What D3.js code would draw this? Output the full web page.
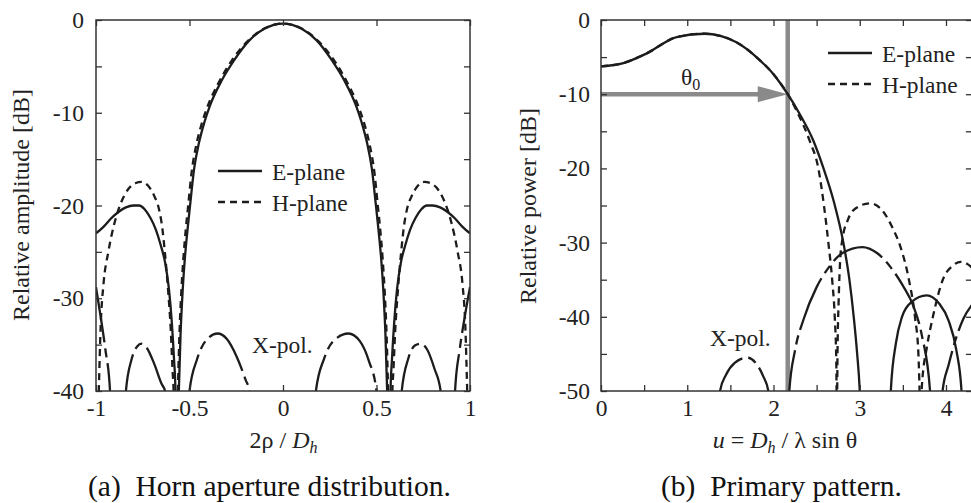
<!DOCTYPE html>
<html>
<head>
<meta charset="utf-8">
<style>
  body { margin: 0; background: #fff; }
  svg { display: block; font-family: "Liberation Serif", "Times New Roman", serif; }
  .axis text { font-size: 23.5px; fill: #222; font-family: "Liberation Serif", serif; }
  .axis line { stroke: #333; stroke-width: 1.3; }
  .axis path { display: none; }
  .lbl { font-size: 23.5px; fill: #222; font-family: "Liberation Serif", serif; }
</style>
</head>
<body>
<svg id="fig" width="971" height="503"></svg>
<script src="https://d3js.org/d3.v7.min.js"></script>
<script>
'use strict';

// ---- data: (a) horn aperture distribution, x = 2rho/Dh, y = dB
var aTicksX = [-1, -0.5, 0, 0.5, 1];
var aTicksY = [-40, -35, -30, -25, -20, -15, -10, -5, 0];

var aEplane = [
  [[-1, -23.0], [-0.96, -22.3], [-0.92, -21.4], [-0.88, -20.7], [-0.84, -20.2], [-0.8, -20.0], [-0.77, -20.0],
   [-0.74, -20.4], [-0.71, -21.3], [-0.68, -22.6], [-0.655, -24.2], [-0.63, -26.2], [-0.61, -29], [-0.595, -32.5],
   [-0.583, -36.5], [-0.575, -40], [-0.572, -44]],
  [[-0.562, -44], [-0.557, -40], [-0.548, -34], [-0.536, -29], [-0.524, -25.5], [-0.51, -22.5], [-0.497, -20],
   [-0.475, -16.0], [-0.45, -13.3], [-0.42, -11.0], [-0.39, -9.2], [-0.33, -6.6], [-0.26, -4.3], [-0.18, -2.2],
   [-0.1, -0.95], [0, -0.38], [0.1, -0.95], [0.18, -2.2], [0.26, -4.3], [0.33, -6.6], [0.39, -9.2],
   [0.42, -11.0], [0.45, -13.3], [0.475, -16.0], [0.497, -20], [0.51, -22.5], [0.524, -25.5], [0.536, -29],
   [0.548, -34], [0.557, -40], [0.562, -44]],
  [[0.572, -44], [0.575, -40], [0.583, -36.5], [0.595, -32.5], [0.61, -29], [0.63, -26.2], [0.655, -24.2],
   [0.68, -22.6], [0.71, -21.3], [0.74, -20.4], [0.77, -20.0], [0.8, -20.0], [0.84, -20.2], [0.88, -20.7],
   [0.92, -21.4], [0.96, -22.3], [1, -23.0]]
];

var aHplane = [
  [[-0.99, -44], [-0.985, -40], [-0.975, -33], [-0.96, -28.5], [-0.934, -25], [-0.9, -21.8], [-0.872, -20],
   [-0.83, -18.3], [-0.79, -17.6], [-0.756, -17.45], [-0.72, -17.9], [-0.69, -18.9], [-0.662, -20.5],
   [-0.645, -22.5], [-0.632, -25], [-0.615, -29], [-0.6, -33.5], [-0.59, -38], [-0.585, -40], [-0.582, -44]],
  [[-0.566, -44], [-0.562, -40], [-0.554, -34], [-0.543, -29], [-0.532, -25.5], [-0.52, -22.6], [-0.507, -20],
   [-0.488, -16.3], [-0.465, -13.6], [-0.435, -11.2], [-0.405, -9.4], [-0.345, -6.8], [-0.275, -4.4],
   [-0.19, -2.3], [-0.1, -0.92], [0, -0.38], [0.1, -0.92], [0.19, -2.3], [0.275, -4.4], [0.345, -6.8],
   [0.405, -9.4], [0.435, -11.2], [0.465, -13.6], [0.488, -16.3], [0.507, -20], [0.52, -22.6], [0.532, -25.5],
   [0.543, -29], [0.554, -34], [0.562, -40], [0.566, -44]],
  [[0.582, -44], [0.585, -40], [0.59, -38], [0.6, -33.5], [0.615, -29], [0.632, -25], [0.645, -22.5],
   [0.662, -20.5], [0.69, -18.9], [0.72, -17.9], [0.756, -17.45], [0.79, -17.6], [0.83, -18.3], [0.872, -20],
   [0.9, -21.8], [0.934, -25], [0.96, -28.5], [0.975, -33], [0.985, -40], [0.99, -44]]
];

var aXpol = [
  [[-1, -28.8], [-0.975, -32], [-0.95, -35.5], [-0.925, -40], [-0.92, -42]],
  [[-0.845, -42], [-0.84, -40], [-0.81, -36.6], [-0.78, -35.2], [-0.756, -34.9], [-0.73, -35.3], [-0.69, -37.0],
   [-0.65, -39.2], [-0.631, -40], [-0.626, -42]],
  [[-0.505, -42], [-0.5, -40], [-0.46, -36.6], [-0.41, -34.5], [-0.35, -33.8], [-0.3, -34.4], [-0.25, -36.2],
   [-0.2, -38.8], [-0.18, -40], [-0.175, -42]],
  [[0.172, -42], [0.176, -40], [0.22, -36.5], [0.27, -34.6], [0.35, -33.8], [0.41, -34.6], [0.46, -36.8],
   [0.5, -40], [0.505, -42]],
  [[0.63, -42], [0.635, -40], [0.67, -36.5], [0.705, -35.1], [0.735, -34.9], [0.77, -35.5], [0.81, -37.6],
   [0.843, -40], [0.848, -42]],
  [[0.915, -42], [0.92, -40], [0.945, -35.5], [0.972, -32], [1, -28.8]]
];

// ---- data: (b) primary pattern, x = u, y = dB
var bTicksX = [0, 0.5, 1, 1.5, 2, 2.5, 3, 3.5, 4];
var bTicksY = [-50, -45, -40, -35, -30, -25, -20, -15, -10, -5, 0];
var bTheta0 = 2.165;
var bTheta0Level = -10;

var bEplane = [
  [[0, -6.25], [0.26, -5.8], [0.53, -4.5], [0.877, -2.3], [1.2, -1.85], [1.57, -3.0], [1.84, -5.4],
   [2.0, -7.3], [2.165, -10.0], [2.31, -12.8], [2.46, -16.2], [2.58, -20.0], [2.7, -24.5], [2.81, -30],
   [2.88, -35], [2.93, -40], [2.97, -45], [3.0, -50], [3.01, -53]],
  [[3.355, -53], [3.36, -50], [3.42, -43.5], [3.49, -40], [3.6, -38], [3.776, -37.1], [3.92, -38.2],
   [4.03, -40.5], [4.12, -44.5], [4.18, -50], [4.185, -53]]
];

var bHplane = [
  [[0, -6.25], [0.26, -5.8], [0.53, -4.5], [0.877, -2.3], [1.2, -1.85], [1.57, -3.0], [1.84, -5.4],
   [2.0, -7.3], [2.165, -10.0], [2.3, -13.0], [2.42, -16.3], [2.52, -20], [2.585, -25], [2.636, -30],
   [2.68, -35], [2.71, -40], [2.728, -46], [2.733, -53]],
  [[2.737, -53], [2.742, -45], [2.755, -38], [2.775, -32], [2.8, -29.5], [2.86, -27], [2.95, -25.4],
   [3.12, -24.7], [3.27, -25.8], [3.38, -28], [3.47, -30.5], [3.57, -35], [3.64, -40], [3.68, -45], [3.7, -53]],
  [[3.705, -53], [3.72, -49.4], [3.78, -44], [3.85, -39.9], [3.97, -34.8], [4.07, -33.2], [4.17, -32.6],
   [4.25, -32.9], [4.32, -33.6]]
];

var bXpol = [
  [[1.375, -52], [1.38, -50], [1.45, -47.8], [1.55, -46.2], [1.69, -45.5], [1.8, -46.3], [1.88, -48],
   [1.94, -50], [1.945, -52]],
  [[2.18, -52], [2.183, -50], [2.25, -44.5], [2.35, -40.3], [2.5, -36], [2.65, -33.2], [2.8, -31.4],
   [3.03, -30.6], [3.2, -31.4], [3.35, -33.2], [3.5, -35.8], [3.62, -38.5], [3.72, -42.5], [3.815, -50],
   [3.82, -52]],
  [[3.955, -52], [3.96, -50], [4.03, -46.5], [4.1, -43.5], [4.2, -40.3], [4.32, -38.1]]
];

var svg = d3.select('#fig');
var INK = '#1c1c1c';

function panel(id, o) {
  var x = d3.scaleLinear().domain(o.xDomain).range([o.left, o.right]);
  var y = d3.scaleLinear().domain(o.yDomain).range([o.bottom, o.top]);
  var g = svg.append('g');

  g.append('clipPath').attr('id', 'clip-' + id)
    .append('rect').attr('x', o.left).attr('y', o.top)
    .attr('width', o.right - o.left).attr('height', o.bottom - o.top);

  var plot = g.append('g').attr('clip-path', 'url(#clip-' + id + ')');
  if (o.before) o.before(plot, x, y);

  var line = d3.line().x(function(d) { return x(d[0]); }).y(function(d) { return y(d[1]); })
    .curve(d3.curveMonotoneX);

  function draw(lobes, dash) {
    plot.append('g').selectAll('path').data(lobes).enter().append('path')
      .attr('d', line).attr('fill', 'none').attr('stroke', INK)
      .attr('stroke-width', 2.3).attr('stroke-dasharray', dash);
  }
  draw(o.xpol, '56,6,9,6');
  draw(o.h, '7,5');
  draw(o.e, null);

  // axes, ticks pointing inward
  var fmtX = function(d) { return Number.isInteger(d) || o.xHalf ? String(d) : ''; };
  var fmtY = function(d) { return d % 10 === 0 ? String(d) : ''; };
  g.append('g').attr('class', 'axis').attr('transform', 'translate(0,' + o.bottom + ')')
    .call(d3.axisBottom(x).tickValues(o.ticksX).tickSize(-6).tickSizeOuter(0).tickPadding(8).tickFormat(fmtX));
  g.append('g').attr('class', 'axis').attr('transform', 'translate(0,' + o.top + ')')
    .call(d3.axisTop(x).tickValues(o.ticksX).tickSize(-6).tickSizeOuter(0).tickFormat(''));
  g.append('g').attr('class', 'axis').attr('transform', 'translate(' + o.left + ',0)')
    .call(d3.axisLeft(y).tickValues(o.ticksY).tickSize(-6).tickSizeOuter(0).tickPadding(o.yPad).tickFormat(fmtY));
  g.append('g').attr('class', 'axis').attr('transform', 'translate(' + o.right + ',0)')
    .call(d3.axisRight(y).tickValues(o.ticksY).tickSize(-6).tickSizeOuter(0).tickFormat(''));

  g.append('rect').attr('x', o.left).attr('y', o.top)
    .attr('width', o.right - o.left).attr('height', o.bottom - o.top)
    .attr('fill', 'none').attr('stroke', '#333').attr('stroke-width', 1.5);

  // legend
  var lg = g.append('g');
  [[o.legend[1], null, 'E-plane'], [o.legend[1] + 31, '7,5', 'H-plane']].forEach(function(r) {
    lg.append('line').attr('x1', o.legend[0]).attr('x2', o.legend[0] + 44)
      .attr('y1', r[0]).attr('y2', r[0]).attr('stroke', INK).attr('stroke-width', 2.3)
      .attr('stroke-dasharray', r[1]);
    lg.append('text').attr('class', 'lbl').attr('x', o.legend[0] + 54).attr('y', r[0] + 9).text(r[2]);
  });

  g.append('text').attr('class', 'lbl').attr('x', o.xpolLabel[0]).attr('y', o.xpolLabel[1]).text('X-pol.');

  g.append('text').attr('class', 'lbl').style('font-size', '24px')
    .attr('text-anchor', 'middle')
    .attr('transform', 'translate(' + o.yTitle[0] + ',' + o.yTitle[1] + ') rotate(-90)')
    .text(o.yTitleText);

  var xt = g.append('text').attr('class', 'lbl').style('font-size', '24px')
    .attr('text-anchor', 'middle').attr('x', o.xTitle[0]).attr('y', o.xTitle[1]);
  o.xTitleParts.forEach(function(p) {
    var t = xt.append('tspan').text(p[0]);
    if (p[1] === 'i') t.style('font-style', 'italic');
    if (p[1] === 'sub') t.style('font-style', 'italic').style('font-size', '16px').attr('dy', 5);
    if (p[1] === 'up') t.attr('dy', -5);
  });

  g.append('text').attr('xml:space', 'preserve').style('white-space', 'pre')
    .style('font-size', '29.5px').attr('fill', '#111')
    .attr('x', o.caption[0]).attr('y', o.caption[1]).text(o.captionText);

  return { x: x, y: y };
}

panel('a', {
  left: 96, right: 470, top: 20, bottom: 391,
  xDomain: [-1, 1], yDomain: [-40, 0],
  ticksX: aTicksX, ticksY: aTicksY, xHalf: true, yPad: 12,
  e: aEplane, h: aHplane, xpol: aXpol,
  legend: [218, 171], xpolLabel: [252, 353],
  yTitle: [29, 205], yTitleText: 'Relative amplitude [dB]',
  xTitle: [283.5, 448], xTitleParts: [['2ρ / ', ''], ['D', 'i'], ['h', 'sub']],
  caption: [88, 496], captionText: '(a)  Horn aperture distribution.'
});

panel('b', {
  left: 601, right: 601 + 86.25 * 4.3, top: 20, bottom: 391,
  xDomain: [0, 4.3], yDomain: [-50, 0],
  ticksX: bTicksX, ticksY: bTicksY, xHalf: false, yPad: 11,
  e: bEplane, h: bHplane, xpol: bXpol,
  legend: [828, 53], xpolLabel: [710, 346],
  yTitle: [536, 206], yTitleText: 'Relative power [dB]',
  xTitle: [785, 448],
  xTitleParts: [['u', 'i'], [' = ', ''], ['D', 'i'], ['h', 'sub'], [' / λ sin θ', 'up']],
  caption: [661, 496], captionText: '(b)  Primary pattern.',
  before: function(plot, x, y) {
    var gray = '#8a8a8a';
    var xt = x(bTheta0), yl = y(bTheta0Level);
    plot.append('line').attr('x1', xt).attr('x2', xt).attr('y1', y(0)).attr('y2', y(-50))
      .attr('stroke', gray).attr('stroke-width', 4.5);
    plot.append('line').attr('x1', x(0)).attr('x2', xt - 26).attr('y1', yl).attr('y2', yl)
      .attr('stroke', gray).attr('stroke-width', 4.5);
    plot.append('path').attr('fill', gray)
      .attr('d', 'M' + xt + ',' + yl + 'L' + (xt - 30) + ',' + (yl - 8) + 'L' + (xt - 30) + ',' + (yl + 8) + 'Z');
    var th = plot.append('text').attr('class', 'lbl').attr('x', 681).attr('y', 85).text('θ');
    th.append('tspan').style('font-size', '16px').attr('dy', 5).text('0');
  }
});
</script>
</body>
</html>
